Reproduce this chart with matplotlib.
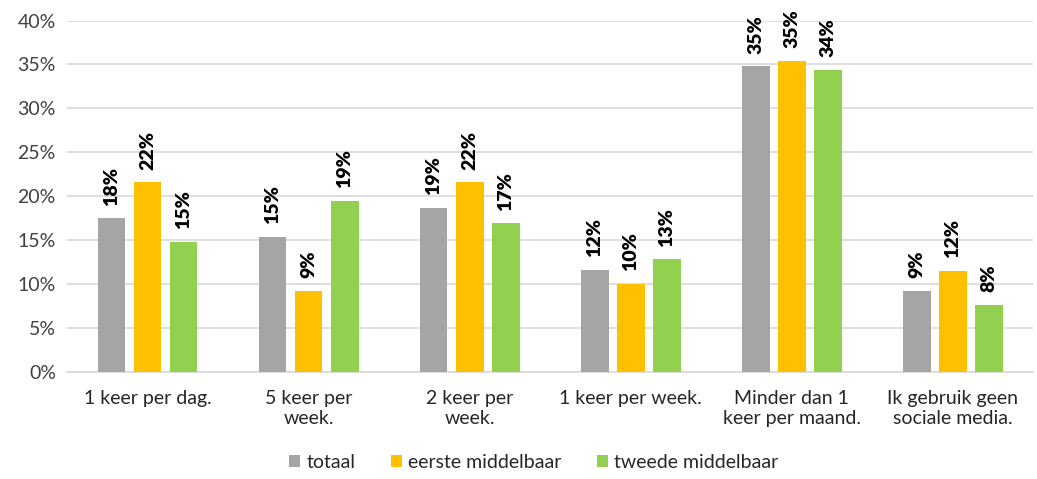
import numpy as np
import matplotlib
matplotlib.use("Agg")
import matplotlib.pyplot as plt
from matplotlib.ticker import PercentFormatter

plt.rcParams['font.family'] = ['Lato', 'DejaVu Sans']

categories = ["1 keer per dag.", "5 keer per\nweek.", "2 keer per\nweek.",
              "1 keer per week.", "Minder dan 1\nkeer per maand.", "Ik gebruik geen\nsociale media."]
series_names = ["totaal", "eerste middelbaar", "tweede middelbaar"]
totaal = [17.5, 15.4, 18.7, 11.6, 34.8, 9.2]
eerste = [21.6, 9.2, 21.6, 10.0, 35.4, 11.5]
tweede = [14.8, 19.5, 16.9, 12.8, 34.4, 7.6]
labels_totaal = ["18%", "15%", "19%", "12%", "35%", "9%"]
labels_eerste = ["22%", "9%", "22%", "10%", "35%", "12%"]
labels_tweede = ["15%", "19%", "17%", "13%", "34%", "8%"]

colors = ["#a5a5a5", "#ffc000", "#92d050"]

fig = plt.figure(figsize=(10.37, 4.79), dpi=100)
ax = fig.add_axes([0.0646, 0.224, 0.932, 0.733])

x = np.arange(len(categories))
width = 0.172
step = 0.224
all_vals = [totaal, eerste, tweede]
all_labels = [labels_totaal, labels_eerste, labels_tweede]
for i, (vals, labs) in enumerate(zip(all_vals, all_labels)):
    pos = x + (i - 1) * step
    ax.bar(pos, vals, width, color=colors[i], label=series_names[i], zorder=3)
    for p, v, t in zip(pos, vals, labs):
        ax.annotate(t, (p, v), xytext=(0, 9), textcoords="offset points",
                    rotation=90, ha="center", va="bottom",
                    fontsize=14, fontweight="heavy", color="black")

ax.set_xlim(-0.5, len(categories) - 0.5)
ax.set_ylim(0, 40)
ax.set_yticks(np.arange(0, 41, 5))
ax.yaxis.set_major_formatter(PercentFormatter(decimals=0))
ax.set_xticks(x)
ax.set_xticklabels(categories, fontsize=14, color="#262626", linespacing=1.25)
ax.tick_params(axis="y", labelsize=14, labelcolor="#404040", length=0, pad=8)
ax.tick_params(axis="x", length=0, pad=13)
ax.grid(axis="y", color="#d9d9d9", linewidth=1.2, zorder=0)
for s in ["top", "right", "left"]:
    ax.spines[s].set_visible(False)
ax.spines["bottom"].set_color("#d9d9d9")
ax.spines["bottom"].set_linewidth(1.2)

fig.legend(loc="lower center", bbox_to_anchor=(0.515, -0.02), ncol=3, frameon=False,
           fontsize=14, handlelength=0.55, handleheight=0.55, handletextpad=0.35,
           columnspacing=1.8, labelcolor="#262626")

fig.savefig("out.png", dpi=100)
